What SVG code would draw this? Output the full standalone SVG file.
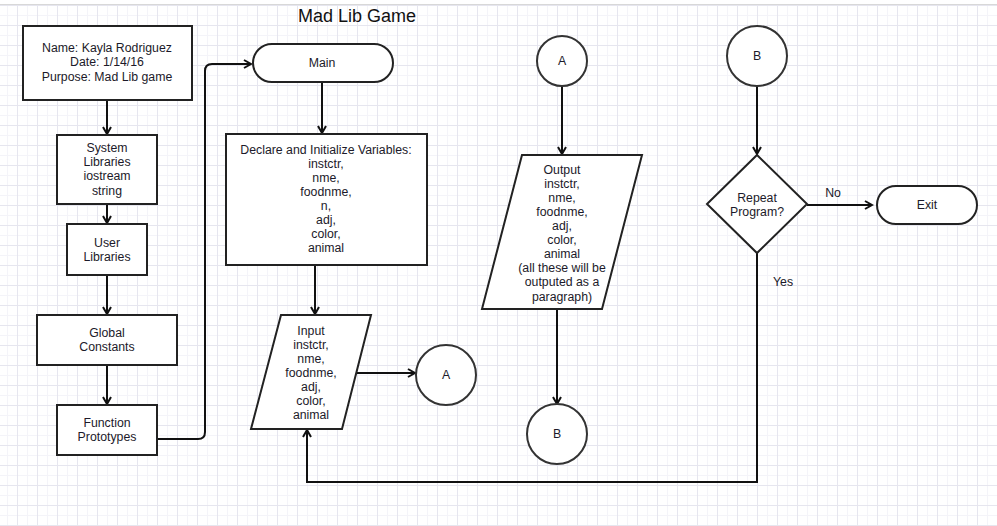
<svg xmlns="http://www.w3.org/2000/svg" width="997" height="526" viewBox="0 0 997 526">
<style>
text{font-family:"Liberation Sans",Arial,sans-serif;font-size:12.3px;fill:#1c1a2a;text-anchor:middle}
.title{font-size:18px;fill:#111}
.box{fill:#fff;stroke:#222;stroke-width:2}
.circ{fill:#fff;stroke:#333;stroke-width:2}
.conn{fill:none;stroke:#111;stroke-width:2}
</style>
<defs>
<pattern id="minor" x="7" y="5" width="10" height="10" patternUnits="userSpaceOnUse">
<path d="M0 0.5H10M0.5 0V10" fill="none" stroke="#f4f4f9" stroke-width="1"/>
</pattern>
<pattern id="major" x="17" y="5" width="20" height="20" patternUnits="userSpaceOnUse">
<path d="M0 0.5H20M0.5 0V20" fill="none" stroke="#e6e6ef" stroke-width="1"/>
</pattern>
<marker id="arr" markerWidth="10" markerHeight="10" refX="8" refY="5" orient="auto" markerUnits="userSpaceOnUse">
<path d="M1 1L8 5L1 9" fill="none" stroke="#111" stroke-width="2"/>
</marker>
</defs>
<rect width="997" height="526" fill="#fff"/>
<rect x="0" y="5" width="997" height="521" fill="url(#minor)"/>
<rect x="0" y="5" width="997" height="521" fill="url(#major)"/>
<line x1="0" y1="4.5" x2="997" y2="4.5" stroke="#d8d8d8" stroke-width="1"/>
<text class="title" x="357" y="22">Mad Lib Game</text>

<g id="connectors">
<line class="conn" x1="107" y1="101" x2="107" y2="134" marker-end="url(#arr)"/>
<line class="conn" x1="107" y1="205" x2="107" y2="223" marker-end="url(#arr)"/>
<line class="conn" x1="107" y1="275" x2="107" y2="314" marker-end="url(#arr)"/>
<line class="conn" x1="107" y1="365" x2="107" y2="404" marker-end="url(#arr)"/>
<path class="conn" d="M157 439H198Q205 439 205 432V71Q205 64 212 64H251" marker-end="url(#arr)"/>
<line class="conn" x1="322" y1="82" x2="322" y2="133" marker-end="url(#arr)"/>
<line class="conn" x1="315" y1="265" x2="315" y2="314" marker-end="url(#arr)"/>
<line class="conn" x1="356" y1="373" x2="415" y2="373" marker-end="url(#arr)"/>
<line class="conn" x1="562" y1="86" x2="562" y2="154" marker-end="url(#arr)"/>
<line class="conn" x1="557" y1="309" x2="557" y2="404" marker-end="url(#arr)"/>
<line class="conn" x1="757" y1="86" x2="757" y2="154" marker-end="url(#arr)"/>
<line class="conn" x1="807" y1="205" x2="872" y2="205" marker-end="url(#arr)"/>
<path class="conn" d="M757 253V482H307V430" marker-end="url(#arr)"/>
<text x="833" y="197">No</text>
<text x="783" y="286">Yes</text>
</g>

<g id="header">
<rect class="box" x="23" y="26" width="169" height="74"/>
<text x="107" y="52">Name: Kayla Rodriguez</text>
<text x="107" y="66">Date: 1/14/16</text>
<text x="107" y="81">Purpose: Mad Lib game</text>
</g>
<g id="syslib">
<rect class="box" x="57" y="135" width="100" height="69"/>
<text x="107" y="152">System</text>
<text x="107" y="166">Libraries</text>
<text x="107" y="180">iostream</text>
<text x="107" y="195">string</text>
</g>
<g id="userlib">
<rect class="box" x="67" y="224" width="80" height="51"/>
<text x="107" y="247">User</text>
<text x="107" y="261">Libraries</text>
</g>
<g id="global">
<rect class="box" x="37" y="315" width="140" height="50"/>
<text x="107" y="337">Global</text>
<text x="107" y="351">Constants</text>
</g>
<g id="proto">
<rect class="box" x="57" y="405" width="100" height="50"/>
<text x="107" y="427">Function</text>
<text x="107" y="441">Prototypes</text>
</g>
<g id="main">
<rect class="box" x="253" y="44" width="140" height="38" rx="19"/>
<text x="322" y="67">Main</text>
</g>
<g id="declare">
<rect class="box" x="226" y="134" width="201" height="131"/>
<text x="326" y="154">Declare and Initialize Variables:</text>
<text x="326" y="168">instctr,</text>
<text x="326" y="182">nme,</text>
<text x="326" y="196">foodnme,</text>
<text x="326" y="210">n,</text>
<text x="326" y="224">adj,</text>
<text x="326" y="238">color,</text>
<text x="326" y="252">animal</text>
</g>
<g id="input">
<polygon class="box" points="281,315 371,315 342,429 251,429"/>
<text x="311" y="335">Input</text>
<text x="311" y="349">instctr,</text>
<text x="311" y="363">nme,</text>
<text x="311" y="377">foodnme,</text>
<text x="311" y="391">adj,</text>
<text x="311" y="405">color,</text>
<text x="311" y="419">animal</text>
</g>
<g id="connA1">
<circle class="circ" cx="446" cy="375" r="30"/>
<text x="446" y="379">A</text>
</g>
<g id="connA2">
<circle class="circ" cx="562" cy="61" r="25"/>
<text x="562" y="65">A</text>
</g>
<g id="output">
<polygon class="box" points="522,155 642,155 602,309 482,309"/>
<text x="562" y="174">Output</text>
<text x="562" y="188">instctr,</text>
<text x="562" y="202">nme,</text>
<text x="562" y="216">foodnme,</text>
<text x="562" y="230">adj,</text>
<text x="562" y="244">color,</text>
<text x="562" y="258">animal</text>
<text x="562" y="272">(all these will be</text>
<text x="562" y="286">outputed as a</text>
<text x="562" y="301">paragraph)</text>
</g>
<g id="connB1">
<circle class="circ" cx="557" cy="434" r="30"/>
<text x="557" y="438">B</text>
</g>
<g id="connB2">
<circle class="circ" cx="757" cy="56" r="30"/>
<text x="757" y="60">B</text>
</g>
<g id="repeat">
<polygon class="box" points="757,155 807,204 757,253 707,204"/>
<text x="757" y="202">Repeat</text>
<text x="757" y="216">Program?</text>
</g>
<g id="exit">
<rect class="box" x="877" y="186" width="100" height="38" rx="19"/>
<text x="927" y="209">Exit</text>
</g>
</svg>
